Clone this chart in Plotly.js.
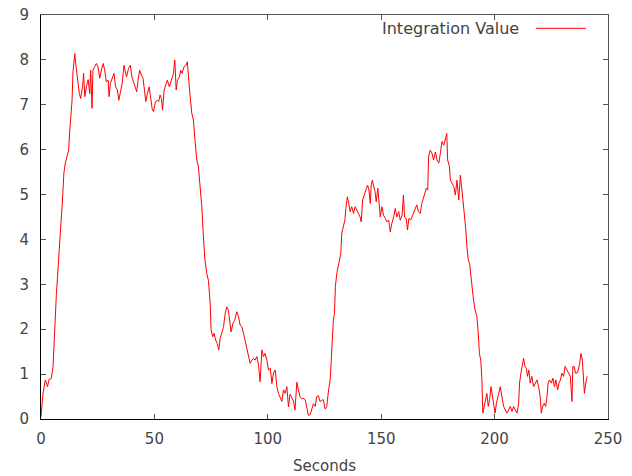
<!DOCTYPE html>
<html>
<head>
<meta charset="utf-8">
<script src="https://cdn.plot.ly/plotly-3.0.1.min.js"></script>
<style>html,body{margin:0;padding:0;background:#fff;}#chart{width:632px;height:476px;}</style>
</head>
<body>
<div id="chart"></div>
<script>
// Time in seconds
const seconds = [
0.0,0.5,0.9,1.9,2.9,3.5,4.5,5.3,5.7,6.0,6.8,7.2,7.5,7.8,8.2,8.7,9.3,9.7,10.1,10.7,11.6,12.2,12.6,13.1,13.7,14.1,14.9,15.3,16.0,16.9,17.5,18.3,18.8,19.3,20.0,20.8,21.5,21.9,22.5,22.9,23.7,24.4,25.1,25.9,26.6,27.4,28.1,28.8,29.6,30.0,30.6,31.4,32.2,32.9,33.7,34.3,34.9,35.8,36.6,37.2,37.7,38.6,39.4,40.1,40.7,41.6,42.2,42.8,43.5,44.3,45.0,45.7,46.2,46.9,47.7,48.4,49.1,49.6,50.5,51.3,51.9,52.5,53.1,53.6,54.3,55.0,55.7,
56.6,57.6,58.4,59.0,59.6,60.2,61.0,61.6,62.2,63.1,64.0,64.5,65.1,65.7,66.5,67.2,67.9,68.7,69.4,70.1,70.9,71.6,72.3,73.1,73.8,74.6,75.0,75.7,76.3,77.0,77.7,78.4,79.0,79.7,80.5,81.2,81.9,82.6,83.4,83.8,84.6,85.4,86.3,87.1,87.8,88.5,89.3,90.0,90.7,91.5,92.2,93.0,93.7,94.4,95.2,95.9,96.6,97.4,98.1,98.8,99.6,100.3,101.1,101.8,102.5,103.3,104.0,104.7,105.4,106.2,106.9,107.6,108.4,109.1,109.8,111.3,112.0,112.8,113.5,114.2,115.0,115.7,116.5,117.2,117.9,118.7,119.4,120.1,120.9,121.6,122.3,123.1,123.8,124.5,125.3,126.0,126.8,127.5,127.9,128.4,128.9,129.4,129.8,130.4,131.0,131.6,132.2,132.6,133.4,134.0,134.4,135.1,135.7,136.3,137.0,137.8,138.5,139.3,140.0,140.7,141.2,141.8,142.5,143.3,144.0,144.6,145.2,145.6,146.1,146.6,147.3,147.8,148.5,149.1,149.6,150.3,151.0,151.8,152.5,153.3,154.0,154.7,155.5,156.2,156.9,157.7,158.4,159.2,159.8,160.3,161.0,161.6,162.2,163.0,163.9,164.8,165.7,166.4,167.2,167.9,168.7,169.4,169.9,170.5,170.9,171.6,172.4,173.1,173.9,174.6,175.4,176.1,176.8,177.6,178.3,178.9,179.3,180.1,180.5,181.2,182.0,182.7,183.4,184.2,184.9,185.6,186.1,186.6,187.2,187.8,188.4,189.0,189.5,190.1,190.7,191.4,192.2,192.8,193.3,193.9,194.4,194.8,195.4,196.0,196.6,197.2,197.8,198.4,199.0,199.6,200.2,200.8,201.4,201.9,202.5,203.2,204.0,204.7,205.5,206.2,206.9,207.7,208.4,209.1,209.9,210.6,211.0,211.6,212.2,212.8,213.4,214.0,214.5,215.1,215.7,216.4,217.2,217.9,218.7,219.4,220.1,220.6,221.2,221.9,222.5,223.1,223.6,224.2,225.0,225.7,226.4,227.0,227.8,228.4,229.0,229.7,230.4,231.1,231.9,232.6,233.4,234.1,234.5,235.1,235.7,236.3,236.9,237.5,238.1,238.7,239.3,239.6,240.2,240.8
];
// Integration value
const integrationValue = [
0.05,0.3,0.58,0.87,0.72,0.88,0.9,1.16,1.68,2.13,2.8,3.1,3.4,3.6,3.99,4.3,4.73,5.17,5.48,5.7,5.88,5.99,6.37,6.8,7.1,7.74,8.14,7.92,7.62,7.25,7.14,7.4,7.7,7.18,7.4,7.56,7.25,7.77,6.92,7.77,7.85,7.92,7.85,7.59,7.77,7.92,7.77,7.51,7.55,7.18,7.48,7.59,7.7,7.4,7.33,7.1,7.25,7.48,7.88,7.77,7.62,7.81,7.88,7.62,7.51,7.4,7.29,7.55,7.77,7.66,7.59,7.29,7.07,7.25,7.4,7.14,6.88,6.85,7.07,7.1,7.07,7.22,7.14,6.88,7.33,7.44,7.55,
7.4,7.55,7.7,8.0,7.33,7.55,7.62,7.77,7.7,7.85,7.88,7.96,7.48,7.22,6.81,6.66,6.21,5.77,5.62,5.17,4.73,4.06,3.54,3.24,3.09,2.58,1.98,1.83,1.91,1.76,1.68,1.54,1.8,1.91,2.06,2.35,2.5,2.43,2.13,1.94,2.13,2.2,2.39,2.28,2.09,2.06,1.91,1.76,1.61,1.46,1.24,1.31,1.35,1.31,1.39,1.2,0.83,1.54,1.39,1.46,1.31,1.09,1.13,0.79,1.02,1.09,0.72,0.57,0.5,0.39,0.65,0.57,0.72,0.27,0.55,0.4,0.2,0.82,0.65,0.5,0.45,0.46,0.43,0.22,0.08,0.1,0.24,0.34,0.28,0.5,0.52,0.38,0.42,0.43,0.22,0.28,0.65,0.87,1.24,1.91,2.2,2.35,2.95,3.24,3.39,3.61,3.69,4.14,4.28,4.43,4.69,4.95,4.8,4.62,4.73,4.58,4.73,4.65,4.58,4.5,4.39,4.88,4.99,5.1,5.21,5.1,4.8,5.21,5.32,5.21,5.06,4.84,5.14,4.8,4.5,4.73,4.54,4.47,4.39,4.43,4.17,4.36,4.5,4.69,4.5,4.62,4.43,4.54,4.99,4.5,4.47,4.21,4.47,4.43,4.54,4.62,4.77,4.62,4.58,4.8,4.95,5.03,5.14,5.1,5.84,5.99,5.92,5.77,5.95,5.77,5.7,5.92,6.18,6.1,6.25,6.36,5.77,5.62,5.32,5.25,5.18,4.99,5.32,4.88,5.43,5.1,4.88,4.58,4.28,3.84,3.54,3.46,3.17,2.95,2.65,2.43,2.28,1.91,1.46,1.31,0.87,0.13,0.28,0.43,0.57,0.28,0.43,0.72,0.5,0.28,0.13,0.35,0.5,0.57,0.72,0.5,0.28,0.2,0.13,0.2,0.28,0.17,0.28,0.2,0.13,0.35,0.8,1.02,1.17,1.35,1.17,1.13,0.95,1.09,0.8,0.95,0.72,0.8,0.87,0.72,0.5,0.13,0.28,0.35,0.28,0.5,0.8,0.87,0.8,0.91,0.72,0.87,0.65,0.8,0.87,1.02,0.95,1.17,1.09,1.02,0.95,0.39,1.17,1.17,1.02,1.02,1.09,1.24,1.46,1.31,0.87,0.57,0.8,0.95
];
const xTicks = [0, 50, 100, 150, 200, 250];
const yTicks = [0, 1, 2, 3, 4, 5, 6, 7, 8, 9];
const seriesName = "Integration Value";
const xTitle = "Seconds";

const FONT = "DejaVu Sans, Verdana, sans-serif";
const TXT = "#444444";

const trace = {
  x: seconds, y: integrationValue, type: "scatter", mode: "lines",
  name: seriesName, line: {color: "#ff0000", width: 1}, showlegend: false,
  hoverinfo: "skip"
};

const common = {
  ticks: "inside", ticklen: 5, tickwidth: 1, tickcolor: "#555555",
  showgrid: false, zeroline: false, showline: true, linewidth: 1
};

const layout = {
  width: 632, height: 476,
  margin: {l: 41, r: 24, t: 15, b: 57, pad: 0},
  paper_bgcolor: "#ffffff", plot_bgcolor: "#ffffff",
  font: {family: FONT, size: 15, color: TXT},
  showlegend: false,
  xaxis: Object.assign({}, common, {
    range: [0, 250], tickvals: xTicks, ticktext: xTicks.map(String),
    linecolor: "#000000", mirror: false, ticklabelstandoff: 6,
    title: {text: xTitle, font: {family: FONT, size: 15, color: TXT}, standoff: 13}
  }),
  xaxis2: Object.assign({}, common, {
    range: [0, 250], tickvals: xTicks, showticklabels: false,
    overlaying: "x", side: "top", linecolor: "#555555"
  }),
  yaxis: Object.assign({}, common, {
    range: [0, 9], tickvals: yTicks, ticktext: yTicks.map(String),
    linecolor: "#000000", mirror: false, ticklabelstandoff: 8
  }),
  yaxis2: Object.assign({}, common, {
    range: [0, 9], tickvals: yTicks, showticklabels: false,
    overlaying: "y", side: "right", linecolor: "#555555"
  }),
  annotations: [{
    xref: "paper", yref: "paper", x: 0.8466, y: 0.967, xanchor: "right", yanchor: "middle",
    text: seriesName, showarrow: false, font: {family: FONT, size: 16, color: TXT}
  }],
  shapes: [{
    type: "line", xref: "paper", yref: "paper", x0: 0.873, x1: 0.961, y0: 0.967, y1: 0.967,
    line: {color: "#ff0000", width: 1}
  }]
};

const dummyTop = {x: [0], y: [0], xaxis: "x2", yaxis: "y2", mode: "markers",
  marker: {opacity: 0}, showlegend: false, hoverinfo: "skip"};

Plotly.newPlot("chart", [trace, dummyTop], layout, {displayModeBar: false, staticPlot: true});
</script>
</body>
</html>
